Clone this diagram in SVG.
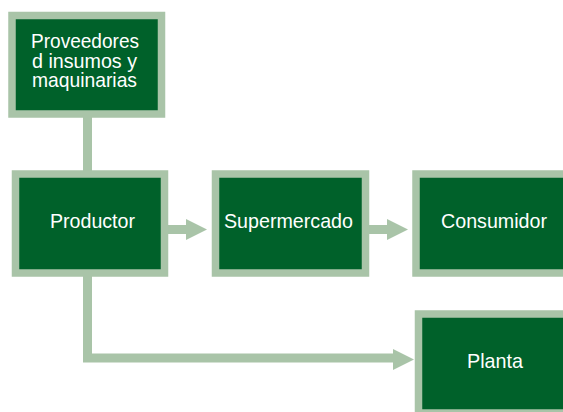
<svg xmlns="http://www.w3.org/2000/svg" width="563" height="412" viewBox="0 0 563 412">
<style>
.box{fill:#00612a;stroke:#a9c4a8;stroke-width:7.5}
.lbl{fill:#ffffff;font-family:"Liberation Sans",Arial,sans-serif;font-size:21px;text-anchor:middle}
.ln{fill:none;stroke:#a9c4a8;stroke-width:9}
.hd{fill:#a9c4a8}
</style>
<rect width="563" height="412" fill="#ffffff"/>
<g id="connectors">
<line class="ln" x1="87.5" y1="117" x2="87.5" y2="171"/>
<line class="ln" x1="167" y1="229.5" x2="187" y2="229.5"/>
<polygon class="hd" points="186,219 207,229.5 186,240"/>
<line class="ln" x1="368" y1="229.5" x2="388" y2="229.5"/>
<polygon class="hd" points="387,219 408,229.5 387,240"/>
<path class="ln" d="M87.5,276 V358 H394"/>
<polygon class="hd" points="393,349 414,359.5 393,370"/>
</g>
<g id="proveedores">
<rect class="box" x="12" y="15.5" width="149.5" height="98.5"/>
<text class="lbl" x="85" y="48" textLength="108" lengthAdjust="spacingAndGlyphs">Proveedores</text>
<text class="lbl" x="84.5" y="67.5" textLength="105" lengthAdjust="spacingAndGlyphs">d insumos y</text>
<text class="lbl" x="84.5" y="87" textLength="105" lengthAdjust="spacingAndGlyphs">maquinarias</text>
</g>
<g id="productor">
<rect class="box" x="15.5" y="174" width="149" height="99"/>
<text class="lbl" x="92.5" y="228" textLength="85" lengthAdjust="spacingAndGlyphs">Productor</text>
</g>
<g id="supermercado">
<rect class="box" x="215.5" y="174" width="150" height="99"/>
<text class="lbl" x="288.5" y="228" textLength="129" lengthAdjust="spacingAndGlyphs">Supermercado</text>
</g>
<g id="consumidor">
<rect class="box" x="416" y="174" width="156" height="99"/>
<text class="lbl" x="494" y="228" textLength="106" lengthAdjust="spacingAndGlyphs">Consumidor</text>
</g>
<g id="planta">
<rect class="box" x="418.5" y="314" width="156" height="99"/>
<text class="lbl" x="495" y="368" textLength="56" lengthAdjust="spacingAndGlyphs">Planta</text>
</g>
</svg>
